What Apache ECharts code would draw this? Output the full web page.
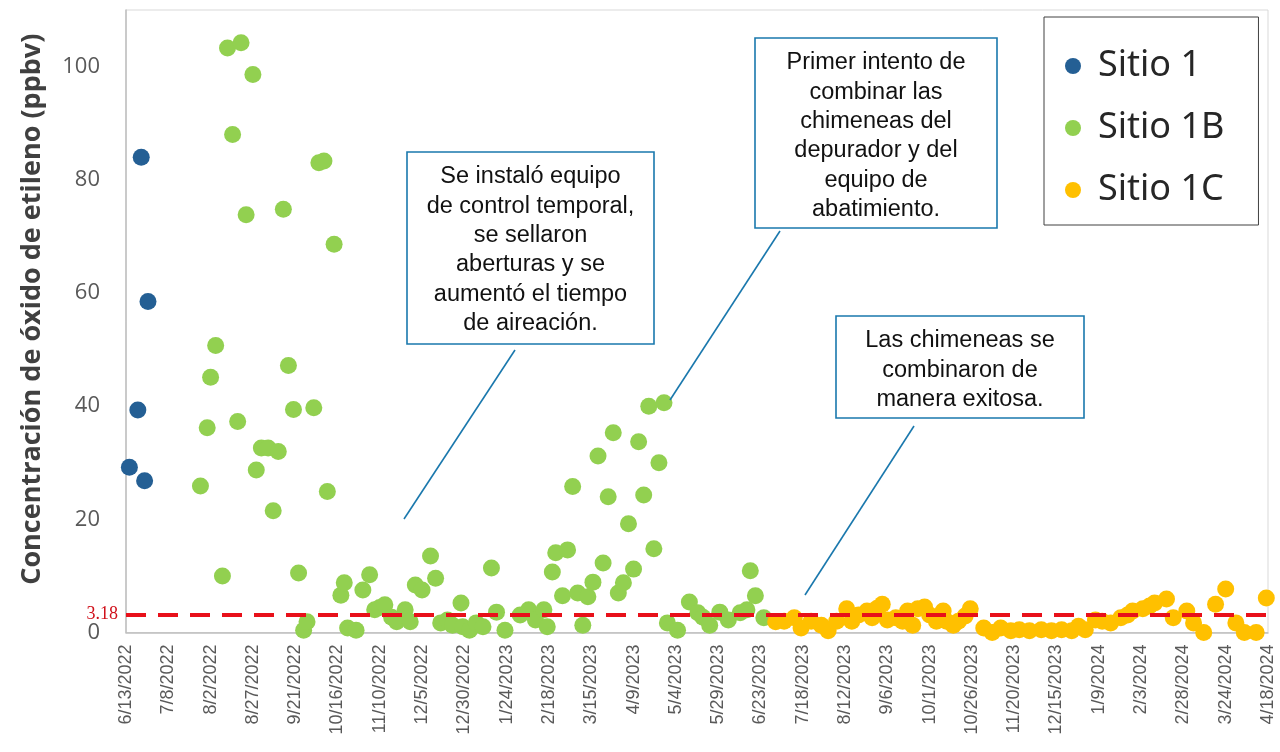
<!DOCTYPE html>
<html>
<head>
<meta charset="utf-8">
<script src="https://cdn.jsdelivr.net/npm/echarts@6/dist/echarts.min.js"></script>
<style>
html,body{margin:0;padding:0;background:#fff;}
#chart{width:1280px;height:752px;}
</style>
</head>
<body>
<div id="chart"></div>
<script>
// x = days since 6/13/2022, y = ppbv
const startDate = Date.UTC(2022, 5, 13);
const seriesNames = ['Sitio 1', 'Sitio 1B', 'Sitio 1C'];
const thresholdValue = 3.18;
const yAxisTitle = 'Concentración de óxido de etileno (ppbv)';

const sitio1 = [[2,29.2],[7,39.3],[9,84],[11,26.8],[13,58.5]];

const sitio1B = [[44,25.9],[48,36.2],[50,45.1],[53,50.7],[57,10],[60,103.3],[63,88],[66,37.3],[68,104.2],[71,73.8],[75,98.6],[77,28.7],[80,32.6],[84,32.6],[87,21.5],[90,32],[93,74.8],[96,47.2],[99,39.4],[102,10.5],[105,0.4],[107,1.9],[111,39.7],[114,83],[117,83.3],[119,24.9],[123,68.6],[127,6.6],[129,8.8],[131,0.8],[136,0.4],[140,7.5],[144,10.2],[147,4],[150,4.4],[153,4.9],[157,2.7],[160,1.9],[165,4],[168,1.9],[171,8.4],[175,7.5],[180,13.5],[183,9.6],[186,1.7],[190,2.2],[193,1.3],[198,5.2],[199,1],[203,0.4],[207,1.7],[211,1],[216,11.4],[219,3.6],[224,0.4],[233,3.1],[238,4],[242,2.2],[247,4],[249,1],[252,10.7],[254,14.1],[258,6.5],[261,14.6],[264,25.8],[267,7],[270,1.3],[273,6.3],[276,8.9],[279,31.2],[282,12.3],[285,24],[288,35.3],[291,7],[294,8.8],[297,19.2],[300,11.2],[303,33.7],[306,24.3],[309,40],[312,14.8],[315,30],[318,40.6],[320,1.7],[326,0.4],[333,5.4],[338,3.5],[341,2.7],[345,1.3],[351,3.6],[356,2.2],[363,3.5],[367,4],[369,10.9],[372,6.5],[377,2.6]];

const sitio1C = [[384,1.9],[389,2],[395,2.6],[399,0.8],[405,2],[411,1.3],[415,0.3],[420,2],[426,4.2],[429,2],[433,3.1],[438,3.8],[441,2.6],[444,4.3],[447,5],[450,2.2],[455,2.6],[459,2],[462,3.8],[465,1.3],[468,4.2],[472,4.5],[475,3.1],[479,2],[483,3.8],[485,2],[489,1.3],[492,2],[496,2.9],[499,4.2],[507,0.8],[512,0],[517,0.8],[523,0.3],[528,0.5],[534,0.3],[541,0.5],[547,0.3],[553,0.5],[559,0.3],[563,1.1],[567,0.5],[573,2.2],[577,2],[582,1.7],[588,2.6],[592,3.1],[595,3.8],[601,4.2],[605,4.7],[608,5.2],[615,5.9],[619,2.6],[627,3.8],[631,1.7],[637,0],[644,5],[650,7.7],[656,1.7],[661,0],[668,0],[674,6.1]];

const callouts = [
  {lines: ['Se instaló equipo','de control temporal,','se sellaron','aberturas y se','aumentó el tiempo','de aireación.'], box:[407,152,247,192], line:[515,350,404,519]},
  {lines: ['Primer intento de','combinar las','chimeneas del','depurador y del','equipo de','abatimiento.'], box:[755,38,242,190], line:[780,231,670,400]},
  {lines: ['Las chimeneas se','combinaron de','manera exitosa.'], box:[836,316,248,102], line:[914,426,805,595]}
];

function fmtDate(v){
  const d = new Date(startDate + v*86400000);
  return (d.getUTCMonth()+1) + '/' + d.getUTCDate() + '/' + d.getUTCFullYear();
}

const graphics = [];
callouts.forEach(c => {
  graphics.push({type:'line', z:100, shape:{x1:c.line[0],y1:c.line[1],x2:c.line[2],y2:c.line[3]}, style:{stroke:'#1a78ad', lineWidth:1.6}});
  graphics.push({type:'rect', z:100, shape:{x:c.box[0],y:c.box[1],width:c.box[2],height:c.box[3]}, style:{fill:'#fff', stroke:'#1a78ad', lineWidth:1.6}});
  graphics.push({type:'text', z:101, x: c.box[0] + c.box[2]/2, y: c.box[1] + 10,
    style:{text:c.lines.join('\n'), textAlign:'center', textVerticalAlign:'top', fill:'#111',
      font:'23.5px "Liberation Sans", Arial, sans-serif', lineHeight:29.4}});
});

const chart = echarts.init(document.getElementById('chart'), null, {renderer:'canvas'});
const colors = ['#245f94', '#92d050', '#ffc000'];
const option = {
  animation: false,
  backgroundColor: '#fff',
  grid: {left:126, right:12, top:10, bottom:119.5, show:true, borderColor:'#d9d9d9', borderWidth:1},
  legend: {
    orient:'vertical', left:1044, top:17,
    padding:[31, 34, 17, 21], itemGap:26,
    borderColor:'#404040', borderWidth:1, backgroundColor:'#fff',
    icon:'circle', itemWidth:16, itemHeight:16,
    textStyle:{fontSize:36, lineHeight:36, color:'#262626', fontFamily:'"Noto Sans", sans-serif', padding:[0,0,0,12]},
    data: seriesNames
  },
  xAxis: {
    type:'value', min:0, max:675, interval:25,
    axisLine:{show:true, lineStyle:{color:'#bfbfbf', width:1.5}},
    axisTick:{show:false}, splitLine:{show:false},
    axisLabel:{rotate:90, margin:12, fontSize:18, color:'#595959', fontFamily:'"Liberation Sans", Arial, sans-serif', formatter: fmtDate}
  },
  yAxis: {
    type:'value', min:0, max:110, interval:20,
    name: yAxisTitle, nameLocation:'middle', nameGap:80, nameRotate:90,
    nameTextStyle:{fontSize:27, fontWeight:'bold', color:'#404040', fontFamily:'"Open Sans", sans-serif', padding:[0,0,0,24]},
    axisLine:{show:true, lineStyle:{color:'#bfbfbf', width:1.5}},
    axisTick:{show:false}, splitLine:{show:false},
    axisLabel:{showMaxLabel:false, margin:26, fontSize:22, color:'#595959', fontFamily:'"Open Sans", sans-serif'}
  },
  series: [
    {name:seriesNames[0], type:'scatter', data:sitio1, symbolSize:17, itemStyle:{color:colors[0], opacity:1},
     markLine:{silent:true, symbol:'none', data:[{yAxis:thresholdValue}],
       lineStyle:{color:'#e8101a', type:[20,12], width:4},
       label:{show:true, position:'start', distance:8, formatter:String(thresholdValue), color:'#d0101a', fontSize:18, fontFamily:'"Liberation Serif", serif'}}},
    {name:seriesNames[1], type:'scatter', data:sitio1B, symbolSize:17, itemStyle:{color:colors[1], opacity:1}},
    {name:seriesNames[2], type:'scatter', data:sitio1C, symbolSize:17, itemStyle:{color:colors[2], opacity:1}}
  ],
  graphic: graphics
};
chart.setOption(option);
</script>
</body>
</html>
